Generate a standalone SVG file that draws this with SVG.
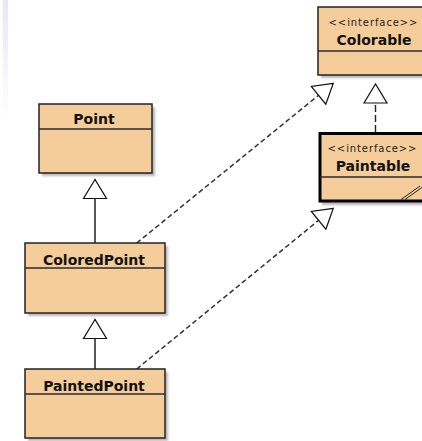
<svg xmlns="http://www.w3.org/2000/svg" width="422" height="441" viewBox="0 0 422 441">
  <style>
    .box { fill: #F5CD9B; stroke: #222; stroke-width: 1.5; }
    .thick { fill: #F5CD9B; stroke: #000; stroke-width: 3; }
    .div { stroke: #2a2a2a; stroke-width: 1.5; }
    .shadow { fill: #8a8a8a; opacity: 0.6; filter: url(#soft); }
    .name { font-family: "DejaVu Sans", Verdana, sans-serif; font-weight: bold; font-size: 14px; fill: #111; text-anchor: middle; }
    .stereo { font-family: "DejaVu Sans", Verdana, sans-serif; font-size: 10px; letter-spacing: 0.9px; fill: #222; text-anchor: middle; }
    .gen { fill: none; stroke: #111; stroke-width: 1.4; marker-end: url(#hollow); }
    .real { fill: none; stroke: #333; stroke-width: 1.5; stroke-dasharray: 5 3; marker-end: url(#hollow); }
    .realv { fill: none; stroke: #222; stroke-width: 1.4; stroke-dasharray: 7 3; marker-end: url(#hollow); }
    .hatch { stroke: #222; stroke-width: 1; }
  </style>
  <defs>
    <filter id="soft" x="-10%" y="-10%" width="120%" height="120%">
      <feGaussianBlur stdDeviation="0.8"/>
    </filter>
    <linearGradient id="edge" x1="0" y1="0" x2="0" y2="1">
      <stop offset="0" stop-color="#E6E6F8"/>
      <stop offset="1" stop-color="#E6E6F8" stop-opacity="0"/>
    </linearGradient>
    <!-- hollow triangle head for generalization / realization -->
    <marker id="hollow" markerUnits="userSpaceOnUse" viewBox="-21 -13 23 26" refX="0" refY="0" markerWidth="23" markerHeight="26" orient="auto" overflow="visible">
      <path d="M0,0 L-19,-11.5 L-19,11.5 Z" fill="#fff" stroke="#111" stroke-width="1.2" stroke-linejoin="miter"/>
    </marker>
  </defs>

  <rect width="422" height="441" fill="#fff"/>
  <rect x="3" y="0" width="5" height="120" fill="url(#edge)"/>

  <!-- connectors -->
  <g id="connectors">
    <line class="gen" x1="95" y1="243" x2="95" y2="179.5"/>
    <line class="gen" x1="95" y1="369" x2="95" y2="319.5"/>
    <line class="realv" x1="375.5" y1="132" x2="375.5" y2="84"/>
    <line class="real" x1="136.7" y1="243" x2="333.3" y2="83.3"/>
    <line class="real" x1="136.7" y1="369" x2="333.3" y2="208.3"/>
  </g>

  <g id="Point">
    <rect class="shadow" x="42" y="107" width="113" height="69"/>
    <rect class="box" x="39" y="104" width="113" height="69"/>
    <line class="div" x1="39" y1="129" x2="152" y2="129"/>
    <text class="name" x="94" y="124">Point</text>
  </g>

  <g id="ColoredPoint">
    <rect class="shadow" x="28" y="246" width="140" height="70"/>
    <rect class="box" x="25" y="243" width="140" height="70"/>
    <line class="div" x1="25" y1="268" x2="165" y2="268"/>
    <text class="name" x="94" y="265">ColoredPoint</text>
  </g>

  <g id="PaintedPoint">
    <rect class="shadow" x="28" y="372" width="140" height="69"/>
    <rect class="box" x="25" y="369" width="140" height="69"/>
    <line class="div" x1="25" y1="394" x2="165" y2="394"/>
    <text class="name" x="94" y="391">PaintedPoint</text>
  </g>

  <g id="Colorable">
    <rect class="shadow" x="321" y="10" width="112" height="68"/>
    <rect class="box" x="318" y="7" width="112" height="68"/>
    <line class="div" x1="318" y1="51" x2="430" y2="51"/>
    <text class="stereo" x="373.5" y="26">&lt;&lt;interface&gt;&gt;</text>
    <text class="name" x="374" y="45">Colorable</text>
  </g>

  <g id="Paintable">
    <rect class="shadow" x="322" y="137" width="112" height="68"/>
    <rect class="thick" x="320" y="133.5" width="112" height="67.5"/>
    <line class="div" x1="320" y1="177" x2="432" y2="177"/>
    <text class="stereo" x="372.5" y="152">&lt;&lt;interface&gt;&gt;</text>
    <text class="name" x="373" y="171">Paintable</text>
    <line class="hatch" x1="401" y1="199.5" x2="420" y2="186"/>
    <line class="hatch" x1="405" y1="199.5" x2="424" y2="186"/>
  </g>
</svg>
